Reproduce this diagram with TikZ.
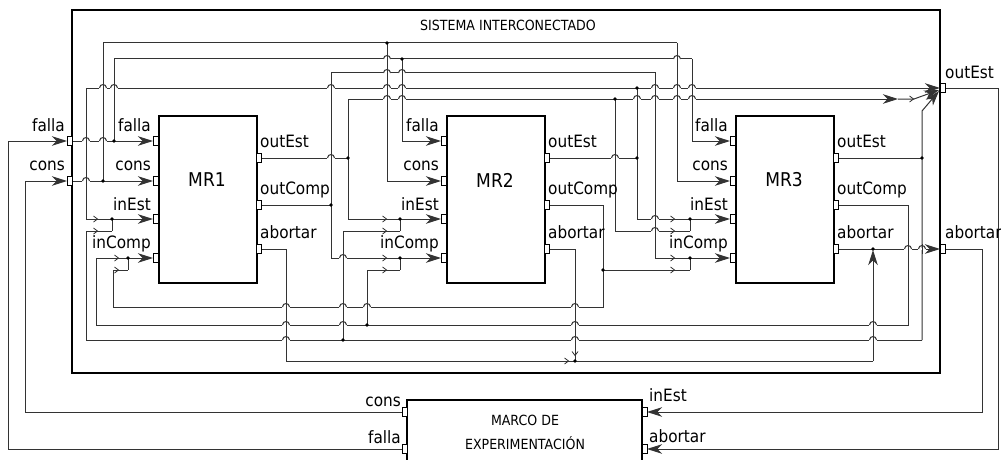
\documentclass[tikz,border=0pt]{standalone}
\usepackage{fontspec}
\usetikzlibrary{arrows.meta}
\newfontfamily\dfont{DejaVu Sans}[FakeStretch=0.9]
\tikzset{
 wire/.style={draw=black!80, line width=1pt},
 big/.style={-{Stealth[length=15pt,width=9.5pt,inset=4.5pt]}},
 port/.style={draw=black, line width=0.9pt, fill=white, minimum width=5pt, minimum height=9pt, inner sep=0pt, outer sep=0pt},
 mrbox/.style={draw=black, line width=2pt, minimum width=98pt, minimum height=167pt, inner sep=0pt, anchor=north west},
 lbl/.style={font=\dfont\fontsize{17}{19}\selectfont, inner sep=0pt},
 lblin/.style={lbl, anchor=base east},
 lblout/.style={lbl, anchor=base west},
 mrname/.style={font=\dfont\fontsize{19}{21}\selectfont, inner sep=0pt},
 title/.style={font=\dfont\fontsize{14}{16}\selectfont, inner sep=0pt},
}
\newcommand\hop[2]{%
 \fill[white] ({#1-3.9},{#2-1.1}) rectangle ({#1+3.9},{#2+1.1});%
 \draw[wire] ({#1-3.5},#2) .. controls ({#1-3.5},{#2-4.6}) and ({#1+3.5},{#2-4.6}) .. ({#1+3.5},#2);%
 \draw[wire] (#1,{#2-5}) -- (#1,{#2+5});}
\newcommand\chev[2]{\draw[wire,line width=0.8pt] ({#1-2.5},{#2-3}) -- ({#1+1.5},#2) -- ({#1-2.5},{#2+3});}
\newcommand\chevd[2]{\draw[wire,line width=0.8pt] ({#1-3},{#2-2.5}) -- (#1,{#2+1.5}) -- ({#1+3},{#2-2.5});}
\begin{document}
\begin{tikzpicture}[x=1pt,y=-1pt]
\useasboundingbox (0,0) rectangle (1001,460);
\fill[white] (0,0) rectangle (1001,460);

% ---------- boxes ----------
\draw[line width=2.4pt] (72,10) rectangle (940,373);
\node[title] (systitle) at (508,25) {SISTEMA INTERCONECTADO};
\node[mrbox] (mr1) at (158,115) {};
\node[mrbox] (mr2) at (446,115) {};
\node[mrbox] (mr3) at (735,115) {};
\node[mrname] (mr1n) at (207,180) {MR1};
\node[mrname] (mr2n) at (495,180) {MR2};
\node[mrname] (mr3n) at (784,180) {MR3};
\draw[line width=2pt] (407,475) -- (407,400) -- (642,400) -- (642,475);
\node[title] (marco1) at (525,420) {MARCO DE};
\node[title] (marco2) at (525,443) {EXPERIMENTACIÓN};

% ---------- port coordinates ----------
\foreach \i/\L/\R in {1/158/256, 2/446/544, 3/735/833} {
  \coordinate (m\i-fa) at ({\L-5},141);
  \coordinate (m\i-co) at ({\L-5},181);
  \coordinate (m\i-ie) at ({\L-5},219);
  \coordinate (m\i-ic) at ({\L-5},258);
  \coordinate (m\i-oe) at ({\R+5},158);
  \coordinate (m\i-oc) at ({\R+5},205);
  \coordinate (m\i-ab) at ({\R+5},249);
}
\coordinate (sfa-w) at (67,141); \coordinate (sfa-e) at (72,141);
\coordinate (sco-w) at (67,181); \coordinate (sco-e) at (72,181);
\coordinate (soe-w) at (940,88); \coordinate (soe-e) at (945,88);
\coordinate (sab-w) at (940,249); \coordinate (sab-e) at (945,249);
\coordinate (mco-w) at (402,412); \coordinate (mfa-w) at (402,449);
\coordinate (mie-e) at (647,412); \coordinate (mab-e) at (647,449);

% ---------- external wires ----------
\draw[wire,big] (mfa-w) -| (8,141) -- (sfa-w);
\draw[wire,big] (mco-w) -| (25,181) -- (sco-w);
\draw[wire,big] (soe-e) -| (998,449) -- (mab-e);
\draw[wire,big] (sab-e) -| (982,412) -- (mie-e);

% ---------- falla / cons ----------
\draw[wire,big] (sfa-e) -- (m1-fa);
\draw[wire,big] (sco-e) -- (m1-co);
\draw[wire] (103,181) -- (103,43) -- (677,43);
\draw[wire,big] (387,43) |- (m2-co);
\draw[wire,big] (677,43) |- (m3-co);
\draw[wire] (114,141) -- (114,59) -- (692,59);
\draw[wire,big] (402,59) |- (m2-fa);
\draw[wire,big] (692,59) |- (m3-fa);

% ---------- MR1 outEst ----------
\draw[wire] (m1-oe) -- (348,158);
\draw[wire,big] (348,99) |- (m2-ie);
\draw[wire,big] (348,99) -- (898,99);
\draw[wire,big] (898,99) -- (914,99) -- (939,90);
\draw[wire] (615,99) |- (690,231);

% ---------- MR1 outComp ----------
\draw[wire] (m1-oc) -- (331,205);
\draw[wire,big] (331,205) |- (m2-ic);
\draw[wire,big] (331,205) -- (331,73) -- (655,73) |- (m3-ic);

% ---------- MR2 outEst ----------
\draw[wire] (m2-oe) -- (637,158);
\draw[wire,big] (637,88) -- (soe-w);
\draw[wire,big] (637,88) -| (86,219) -- (m1-ie);
\draw[wire,big] (637,88) |- (m3-ie);

% ---------- MR2 outComp ----------
\draw[wire] (m2-oc) -| (603,307) -| (113,270) -- (128,270);
\draw[wire] (603,270) -- (690,270);

% ---------- MR3 outEst ----------
\draw[wire] (m3-oe) -- (922,158);
\draw[wire,big] (922,340) -- (922,111) -- (939,91);
\draw[wire] (922,340) -| (86,231) -- (112,231);
\draw[wire] (343,340) |- (400,231);

% ---------- MR3 outComp ----------
\draw[wire,big] (m3-oc) -| (908,325) -| (96,258) -- (m1-ic);
\draw[wire] (367,325) |- (400,270);

% ---------- junction verticals ----------
\draw[wire] (112,219) -- (112,231);
\draw[wire] (128,258) -- (128,270);
\draw[wire] (400,219) -- (400,231);
\draw[wire] (400,258) -- (400,270);
\draw[wire] (690,219) -- (690,231);
\draw[wire] (690,258) -- (690,270);

% ---------- abortar ----------
\draw[wire] (m1-ab) -| (286,361) -- (575,361);
\draw[wire] (m2-ab) -| (575,361);
\draw[wire] (575,361) -- (873,361);
\draw[wire,big] (873,361) -- (873,250);
\draw[wire,big] (m3-ab) -- (sab-w);

% ---------- hops ----------
\foreach \x in {387,677} {\hop{\x}{59}}
\foreach \x in {387,402} {\hop{\x}{73}}
\foreach \x in {103,114,331,387,402,655,677,692} {\hop{\x}{88}}
\foreach \x in {387,402,637,655,677,692} {\hop{\x}{99}}
\foreach \x in {86,103} {\hop{\x}{141}}
\hop{86}{181}
\hop{331}{158}
\hop{615}{158}
\hop{655}{219}
\hop{655}{231}
\hop{343}{258}
\foreach \x in {908,922} {\hop{\x}{249}}
\foreach \x in {286,343,367,575} {\hop{\x}{307}}
\foreach \x in {286,343,575,873} {\hop{\x}{325}}
\foreach \x in {286,575,873} {\hop{\x}{340}}

% ---------- dots ----------
\foreach \p in {(103,181),(114,141),(387,43),(402,59),(331,205),(348,158),(615,99),(637,88),(637,158),(922,158),(343,340),(367,325),(603,270),(575,361),(873,249),(112,219),(128,258),(400,219),(400,258),(690,219),(690,258)}
  {\fill[black] \p circle[radius=1.9pt];}

% ---------- chevrons ----------
\foreach \x/\y in {96/219,96/231,117/258,117/270,385/219,385/231,385/258,385/270,673/219,673/231,673/258,673/270,567/361,912/99} {\chev{\x}{\y}}
\chevd{575}{354}

% ---------- ports and labels ----------
\foreach \i/\L/\R in {1/158/256, 2/446/544, 3/735/833} {
  \node[port] (p\i fa) at ({\L-2.5},141) {};
  \node[port] (p\i co) at ({\L-2.5},181) {};
  \node[port] (p\i ie) at ({\L-2.5},219) {};
  \node[port] (p\i ic) at ({\L-2.5},258) {};
  \node[port] (p\i oe) at ({\R+2.5},158) {};
  \node[port] (p\i oc) at ({\R+2.5},205) {};
  \node[port] (p\i ab) at ({\R+2.5},249) {};
  \node[lblin] (l\i fa) at ({\L-7},131) {falla};
  \node[lblin] (l\i co) at ({\L-7},170) {cons};
  \node[lblin] (l\i ie) at ({\L-7},210) {inEst};
  \node[lblin] (l\i ic) at ({\L-7},248) {inComp};
  \node[lblout] (l\i oe) at ({\R+4},147) {outEst};
  \node[lblout] (l\i oc) at ({\R+4},194) {outComp};
  \node[lblout] (l\i ab) at ({\R+4},238) {abortar};
}
\node[port] (sfa) at (69.5,141) {};
\node[port] (sco) at (69.5,181) {};
\node[port] (soe) at (942.5,88) {};
\node[port] (sab) at (942.5,249) {};
\node[port] (mco) at (404.5,412) {};
\node[port] (mfa) at (404.5,449) {};
\node[port] (mie) at (644.5,412) {};
\node[port] (mab) at (644.5,449) {};
\node[lblin] (lsfa) at (65,131) {falla};
\node[lblin] (lsco) at (65,170) {cons};
\node[lblout] (lsoe) at (945,78) {outEst};
\node[lblout] (lsab) at (945,238) {abortar};
\node[lblin] (lmco) at (401,406) {cons};
\node[lblin] (lmfa) at (401,443) {falla};
\node[lblout] (lmie) at (649,401) {inEst};
\node[lblout] (lmab) at (649,442) {abortar};
\end{tikzpicture}
\end{document}
